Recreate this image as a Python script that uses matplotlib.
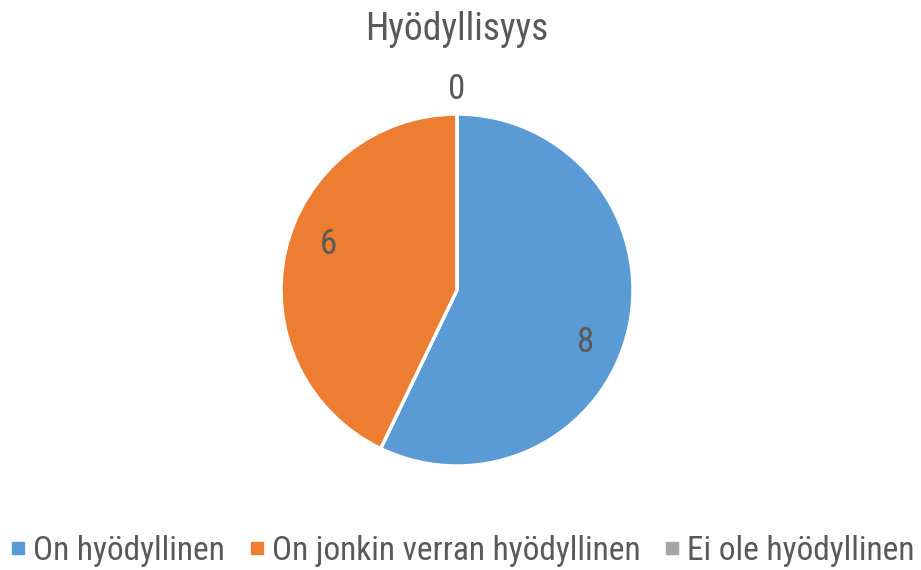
import numpy as np
import matplotlib
matplotlib.use("Agg")
import matplotlib.pyplot as plt
from matplotlib import font_manager
from matplotlib.lines import Line2D

# prefer a condensed face like the original; fall back to a regular sans
available = {f.name for f in font_manager.fontManager.ttflist}
narrow = [n for n in ["Liberation Sans Narrow", "Roboto Condensed", "Open Sans Condensed",
                      "Noto Sans Condensed", "DejaVu Sans Condensed"] if n in available]
if narrow:
    plt.rcParams['font.family'] = [narrow[0], 'DejaVu Sans']
    scale = 1.0
else:
    plt.rcParams['font.family'] = ['Liberation Sans', 'DejaVu Sans']
    scale = 0.7

title = "Hyödyllisyys"
categories = ["On hyödyllinen", "On jonkin verran hyödyllinen", "Ei ole hyödyllinen"]
values = [8, 6, 0]
colors = ["#5B9BD5", "#ED7D31", "#A5A5A5"]
text_color = "#595959"

W, H = 921, 570
fig = plt.figure(figsize=(W / 100, H / 100), dpi=100)

# pie axes placed in pixel terms
cx, cy, r = 457, 280, 176
ax = fig.add_axes([(cx - r) / W, (cy - r) / H, 2 * r / W, 2 * r / H])
wedges, _ = ax.pie(values, colors=colors, startangle=90, counterclock=False,
                   wedgeprops=dict(edgecolor="white", linewidth=2.5))
ax.set_xlim(-1, 1)
ax.set_ylim(-1, 1)
ax.set_aspect("equal")

# data labels (Excel puts them a bit clockwise of the wedge middle)
total = sum(values)
start = 90.0
for v in values:
    sweep = v / total * 360
    mid = np.deg2rad(start - sweep / 2 - 8)
    if v > 0:
        x, y = 0.78 * np.cos(mid), 0.78 * np.sin(mid) - 0.02
    else:
        x, y = 0, 1.14
    ax.text(x, y, str(v), ha="center", va="center",
            fontsize=25 * scale, color=text_color)
    start -= sweep

fig.text(457 / W, 1 - 30 / H, title, ha="center", va="center",
         fontsize=27 * scale, color=text_color)

handles = [Line2D([], [], marker="s", linestyle="", markersize=8, color=c) for c in colors]
fig.legend(handles, categories, loc="center", bbox_to_anchor=(0.5, 1 - 551 / H),
           ncol=3, frameon=False, fontsize=24 * scale, labelcolor=text_color,
           handletextpad=0.1, columnspacing=0.6, handlelength=0.7)

fig.savefig("out.png", dpi=100)
